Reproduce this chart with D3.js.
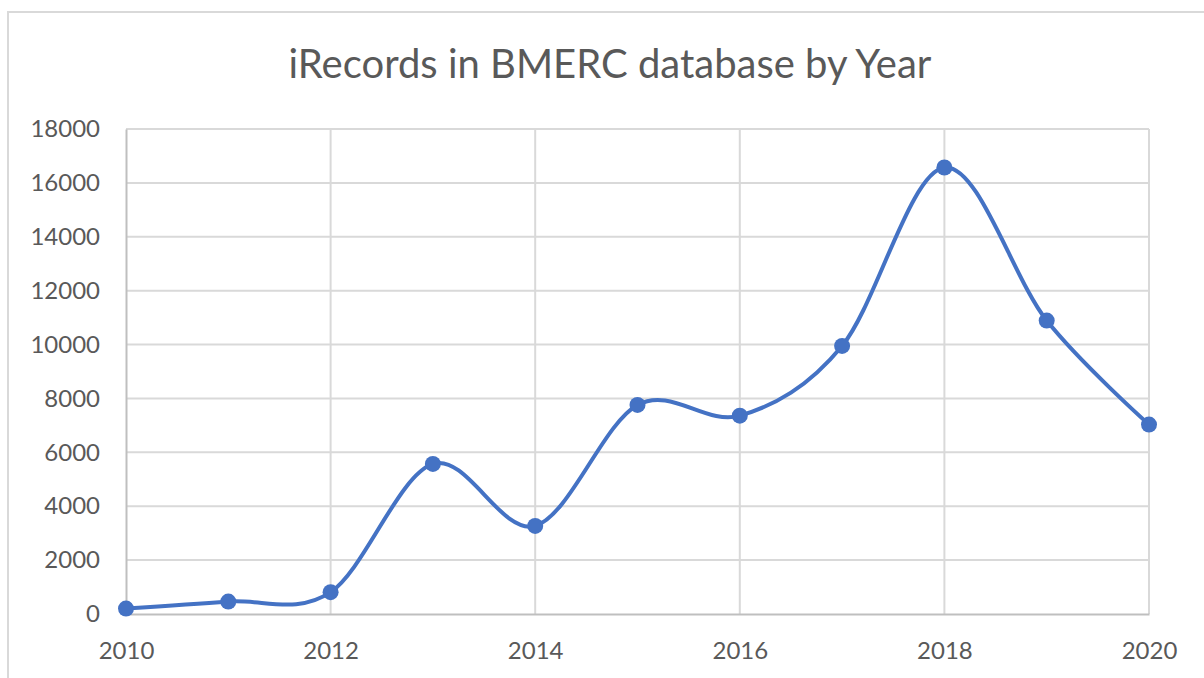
<!DOCTYPE html>
<html>
<head>
<meta charset="utf-8">
<script src="https://cdn.jsdelivr.net/npm/d3@7"></script>
<style>
  body { margin: 0; background: #fff; }
  text { font-family: Lato, "Open Sans", sans-serif; fill: #595959; }
</style>
</head>
<body>
<div id="chart"></div>
<script>
// Values
var years = [2010, 2011, 2012, 2013, 2014, 2015, 2016, 2017, 2018, 2019, 2020];
var records = [200, 460, 810, 5570, 3270, 7760, 7360, 9950, 16570, 10890, 7030];
var yTicks = [0, 2000, 4000, 6000, 8000, 10000, 12000, 14000, 16000, 18000];
var xTicks = [2010, 2012, 2014, 2016, 2018, 2020];

var W = 1204, H = 678;
var margin = { top: 129, right: 55, bottom: 64, left: 126 },
    width = W - margin.left - margin.right,
    height = H - margin.top - margin.bottom;

var svg = d3.select("#chart").append("svg")
    .attr("width", W)
    .attr("height", H);

// chart frame
svg.append("rect")
    .attr("x", 8).attr("y", 12)
    .attr("width", W + 10).attr("height", H + 10)
    .attr("fill", "none")
    .attr("stroke", "#d9d9d9")
    .attr("stroke-width", 2);

svg.append("text")
    .attr("x", 610)
    .attr("y", 78)
    .attr("text-anchor", "middle")
    .style("font-size", "40px")
    .text("iRecords in BMERC database by Year");

var g = svg.append("g")
    .attr("transform", "translate(" + margin.left + "," + margin.top + ")");

var x = d3.scaleLinear().domain([2010, 2020]).range([0, width]);
var y = d3.scaleLinear().domain([0, 18000]).range([height, 0]);

// gridlines
g.append("g").selectAll("line.h")
    .data(yTicks.slice(1))
    .enter().append("line")
    .attr("x1", 0).attr("x2", width)
    .attr("y1", function (d) { return y(d); })
    .attr("y2", function (d) { return y(d); })
    .attr("stroke", "#d9d9d9")
    .attr("stroke-width", 2);

g.append("g").selectAll("line.v")
    .data(xTicks.slice(1))
    .enter().append("line")
    .attr("x1", function (d) { return x(d); })
    .attr("x2", function (d) { return x(d); })
    .attr("y1", 0).attr("y2", height)
    .attr("stroke", "#d9d9d9")
    .attr("stroke-width", 2);

// axes
var yAxis = d3.axisLeft(y).tickValues(yTicks).tickSize(0).tickPadding(26)
    .tickFormat(d3.format("d"));
var xAxis = d3.axisBottom(x).tickValues(xTicks).tickSize(0).tickPadding(28)
    .tickFormat(d3.format("d"));

var ya = g.append("g").call(yAxis);
var xa = g.append("g").attr("transform", "translate(0," + height + ")").call(xAxis);

[ya, xa].forEach(function (a) {
    a.select(".domain").attr("stroke", "#bfbfbf").attr("stroke-width", 2);
    a.selectAll("text").style("font-size", "24px").attr("fill", "#595959")
        .style("font-family", "Lato, 'Open Sans', sans-serif");
});

// smoothed line, like the spreadsheet's smooth option
var line = d3.line()
    .x(function (d, i) { return x(years[i]); })
    .y(function (d) { return y(d); })
    .curve(d3.curveCardinal.tension(0));

g.append("path")
    .datum(records)
    .attr("fill", "none")
    .attr("stroke", "#4472c4")
    .attr("stroke-width", 4)
    .attr("stroke-linecap", "round")
    .attr("d", line);

g.selectAll(".dot")
    .data(records)
    .enter().append("circle")
    .attr("class", "dot")
    .attr("cx", function (d, i) { return x(years[i]); })
    .attr("cy", function (d) { return y(d); })
    .attr("r", 8)
    .attr("fill", "#4472c4");
</script>
</body>
</html>
